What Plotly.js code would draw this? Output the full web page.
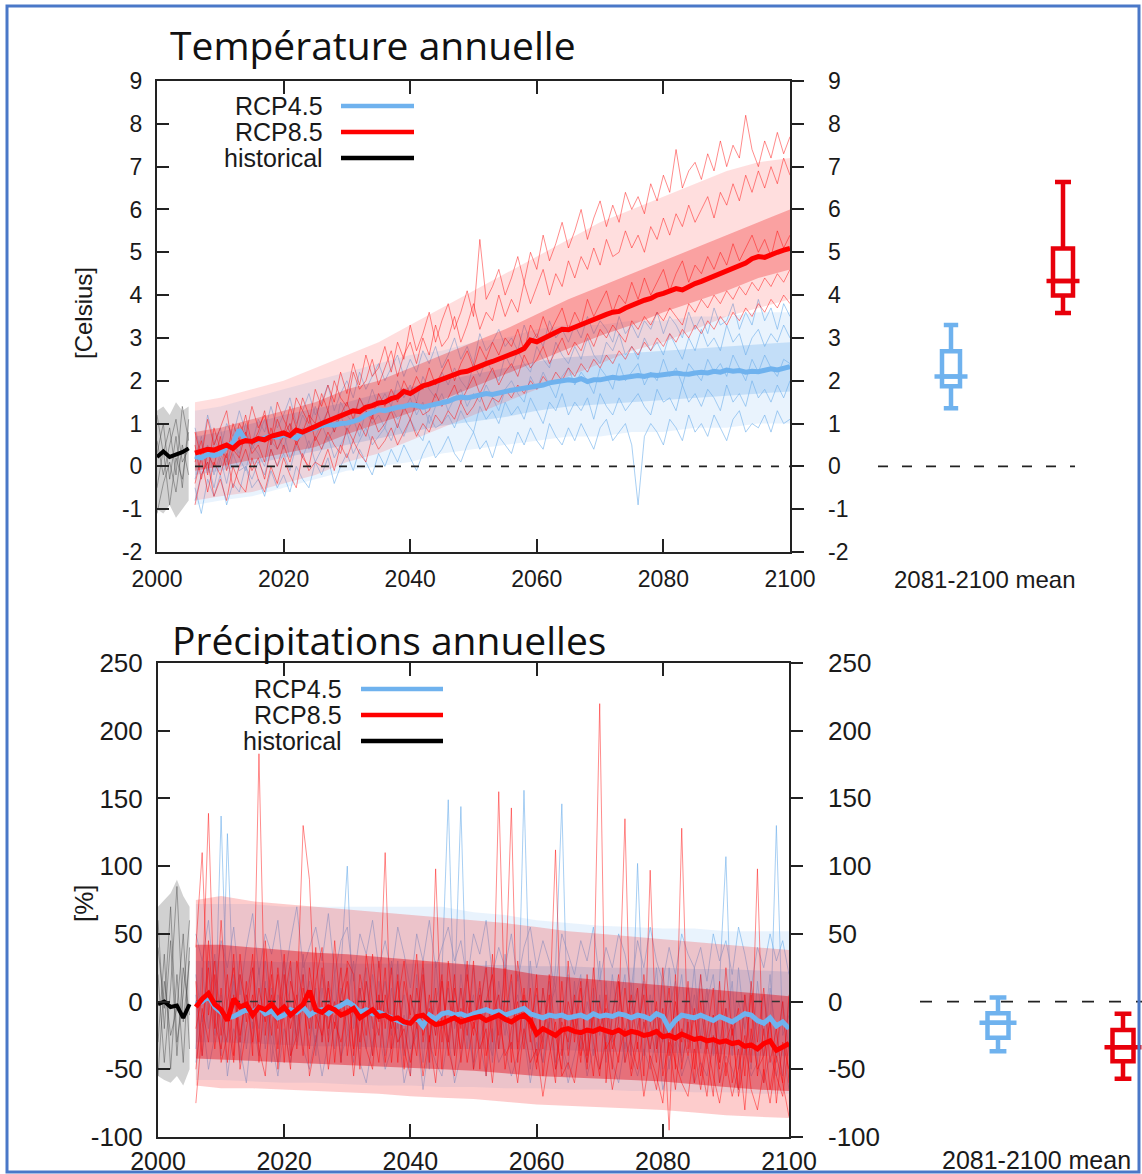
<!DOCTYPE html>
<html>
<head>
<meta charset="utf-8">
<script src="https://cdn.plot.ly/plotly-3.0.1.min.js"></script>
<style>
html,body{margin:0;padding:0;background:#fff;}
#chart{width:1142px;height:1174px;}
</style>
</head>
<body>
<div id="chart"></div>
<script>
// ---------------- DATA ----------------
const scenarios = ['RCP4.5', 'RCP8.5', 'historical'];
const xTickVals = [2000, 2020, 2040, 2060, 2080, 2100];
const tempTickVals = [-2, -1, 0, 1, 2, 3, 4, 5, 6, 7, 8, 9];
const tempTickText = ['-2', '-1', '0', '1', '2', '3', '4', '5', '6', '7', '8', '9'];
const precTickVals = [-100, -50, 0, 50, 100, 150, 200, 250];
const precTickText = ['-100', '-50', '0', '50', '100', '150', '200', '250'];
const boxLabel = '2081-2100 mean';

const histYears = [2000, 2001, 2002, 2003, 2004, 2005];
const projYears = Array.from({length: 95}, (_, i) => 2006 + i);
const bandYears = [2006,2010,2015,2020,2025,2030,2035,2040,2045,2050,2055,2060,2065,2070,2075,2080,2085,2090,2095,2100];

// ---- Temperature (Celsius) ----
const tempHistMean = [0.22, 0.35, 0.22, 0.28, 0.33, 0.42];
const tempHistLow  = [-1.0, -1.1, -0.9, -1.2, -1.0, -0.8];
const tempHistHigh = [1.3, 1.4, 1.2, 1.5, 1.3, 1.4];
const tempHistM1 = [1.2, 0.3, 0.9, -0.2, 1.4, 0.6];
const tempHistM2 = [-0.5, 0.4, -0.9, 0.2, -0.3, 0.8];
const tempHistM3 = [0.6, -0.2, 0.5, 1.1, 0.1, 0.4];
const tempHistM4 = [-1.1, -0.4, 0.1, -0.6, 0.5, -0.2];
const tempHistM5 = [0.3, 1.0, -0.3, 0.7, -0.5, 1.1];

const temp85Mean = [
 0.31,0.35,0.40,0.38,0.45,0.50,0.42,0.55,0.60,0.58,
 0.65,0.62,0.70,0.75,0.78,0.72,0.85,0.80,0.88,0.93,
 1.00,1.05,1.10,1.18,1.24,1.30,1.28,1.38,1.42,1.48,
 1.50,1.58,1.62,1.75,1.70,1.80,1.88,1.92,1.98,2.02,
 2.10,2.15,2.20,2.22,2.29,2.35,2.40,2.45,2.50,2.56,
 2.62,2.68,2.75,2.95,2.91,2.98,3.05,3.10,3.20,3.19,
 3.25,3.32,3.40,3.45,3.50,3.55,3.60,3.62,3.70,3.77,
 3.82,3.88,3.92,4.00,4.04,4.08,4.15,4.12,4.20,4.27,
 4.32,4.38,4.45,4.50,4.58,4.62,4.70,4.75,4.85,4.90,
 4.88,4.95,5.00,5.05,5.09];
const temp45Mean = [
 0.23,0.20,0.28,0.25,0.30,0.45,0.55,0.85,0.60,0.58,
 0.62,0.65,0.70,0.68,0.74,0.72,0.66,0.80,0.85,0.93,
 0.95,0.98,0.96,1.00,1.01,1.05,1.10,1.20,1.25,1.32,
 1.30,1.35,1.38,1.40,1.44,1.42,1.38,1.42,1.45,1.48,
 1.52,1.58,1.62,1.60,1.63,1.66,1.70,1.68,1.72,1.75,
 1.78,1.80,1.82,1.85,1.86,1.90,1.95,1.98,2.00,2.02,
 2.00,2.05,1.98,2.02,2.02,2.05,2.08,2.06,2.08,2.10,
 2.12,2.10,2.14,2.12,2.14,2.15,2.18,2.16,2.15,2.18,
 2.20,2.18,2.22,2.20,2.25,2.22,2.24,2.20,2.22,2.21,
 2.25,2.28,2.25,2.30,2.33];

// ensemble spread: outer (near min/max) and inner (core) envelopes
const temp85OuterLow  = [-0.8,-0.7,-0.6,-0.4,-0.2,0.1,0.3,0.6,0.9,1.2,1.5,1.8,2.1,2.4,2.7,2.9,3.2,3.5,3.7,3.9];
const temp85OuterHigh = [1.5,1.6,1.8,2.0,2.3,2.6,2.9,3.3,3.7,4.1,4.5,4.9,5.3,5.7,6.0,6.3,6.6,6.9,7.1,7.2];
const temp85InnerLow  = [-0.1,0.0,0.15,0.3,0.45,0.75,1.0,1.25,1.55,1.85,2.15,2.45,2.75,3.05,3.3,3.6,3.85,4.1,4.4,4.6];
const temp85InnerHigh = [0.8,0.9,1.1,1.3,1.5,1.8,2.0,2.3,2.6,2.9,3.2,3.55,3.9,4.2,4.5,4.8,5.1,5.4,5.7,6.0];
const temp45OuterLow  = [-0.9,-0.8,-0.7,-0.5,-0.3,-0.1,0.0,0.1,0.3,0.4,0.5,0.6,0.7,0.7,0.8,0.8,0.9,0.9,1.0,1.0];
const temp45OuterHigh = [1.3,1.4,1.6,1.8,2.0,2.2,2.4,2.6,2.7,2.9,3.0,3.2,3.3,3.3,3.4,3.4,3.5,3.5,3.6,3.6];
const temp45InnerLow  = [-0.2,-0.1,0.05,0.2,0.35,0.5,0.65,0.8,0.95,1.05,1.15,1.3,1.4,1.45,1.5,1.55,1.6,1.65,1.7,1.75];
const temp45InnerHigh = [0.7,0.8,1.0,1.2,1.35,1.5,1.7,1.85,2.0,2.15,2.3,2.45,2.55,2.6,2.65,2.7,2.75,2.8,2.85,2.9];

const temp85M1 = [
 0.8,0.2,1.1,0.5,0.9,1.3,0.4,1.0,0.7,1.4, 0.9,1.2,0.6,1.5,1.1,0.8,1.6,1.3,1.0,1.8,
 1.4,1.9,1.5,2.2,1.7,2.4,1.9,2.6,2.1,2.3, 2.8,2.2,2.9,2.5,3.3,2.7,3.1,3.6,2.9,3.4,
 3.8,3.2,3.6,4.1,3.5,5.3,3.9,4.2,4.6,4.0, 4.4,4.9,4.3,5.0,4.6,5.4,4.8,5.2,5.7,5.1,
 5.5,6.0,5.3,5.8,6.2,5.6,6.1,5.7,6.4,6.0, 6.3,5.9,6.6,6.2,6.8,6.4,7.4,6.5,6.9,7.1,
 6.7,7.3,6.9,7.6,7.0,7.5,7.2,8.2,7.4,7.0, 7.6,7.2,7.8,7.3,7.7];
const temp85M2 = [
 0.1,0.6,-0.2,0.9,0.4,0.2,1.0,0.6,1.2,0.5, 0.8,1.3,0.5,1.1,0.7,1.4,0.9,1.6,1.2,1.0,
 1.7,1.3,2.0,1.6,1.4,2.2,1.8,2.0,2.5,1.9, 2.3,2.7,2.1,2.6,2.9,2.4,3.0,2.6,3.3,2.8,
 3.0,3.5,2.9,3.3,3.8,3.2,3.6,3.4,4.0,3.5, 3.9,3.6,4.3,3.8,4.2,4.6,4.0,4.5,4.2,4.8,
 4.4,4.9,4.6,5.1,4.7,5.3,4.9,5.0,5.5,5.1, 5.4,5.0,5.6,5.3,5.8,5.4,5.9,5.6,6.1,5.7,
 6.0,6.3,5.8,6.4,6.1,6.6,6.2,6.8,6.4,6.9, 6.5,7.0,6.6,7.2,6.8];
const temp85M3 = [
 0.5,-0.3,0.3,0.0,0.7,-0.1,0.4,0.2,0.8,0.3, 0.5,0.1,0.9,0.4,0.7,1.0,0.5,0.8,1.2,0.6,
 0.9,1.3,0.8,1.2,1.5,1.1,1.6,1.3,1.1,1.7, 1.4,1.8,1.5,2.0,1.7,2.1,1.8,2.3,1.9,2.2,
 2.5,2.0,2.4,2.7,2.3,2.8,2.5,2.9,2.6,3.0, 2.8,3.2,2.7,3.3,3.0,3.5,3.1,3.4,3.7,3.2,
 3.6,3.3,3.9,3.5,3.8,4.1,3.6,4.0,3.8,4.3, 3.9,4.4,4.0,4.3,4.6,4.1,4.5,4.8,4.3,4.7,
 4.5,4.9,4.6,5.0,4.7,5.2,4.8,5.1,5.4,5.0, 5.3,4.9,5.5,5.1,5.4];
const temp85M4 = [
 -0.4,0.2,-0.6,0.1,-0.2,0.3,-0.5,0.0,0.4,-0.1, 0.2,-0.3,0.4,0.0,0.5,0.1,0.6,0.2,0.0,0.7,
 0.4,0.8,0.5,0.3,0.9,0.6,1.0,0.7,1.2,0.8, 1.0,1.3,0.9,1.4,1.1,1.5,1.2,1.3,1.7,1.4,
 1.6,1.9,1.5,1.8,2.1,1.7,2.0,2.3,1.9,2.2, 2.4,2.1,2.6,2.3,2.5,2.8,2.4,2.7,3.0,2.6,
 2.9,2.7,3.1,2.8,3.2,3.0,3.3,3.1,2.9,3.4, 3.2,3.5,3.3,3.6,3.4,3.7,3.5,3.3,3.8,3.6,
 3.9,3.7,4.0,3.8,4.1,3.9,4.2,4.0,4.3,4.1, 4.4,4.2,4.5,4.3,4.6];
const temp85M5 = [
 -0.9,-0.2,0.1,-0.7,-0.3,-0.8,0.0,-0.4,-0.6,0.2, -0.3,-0.6,0.0,-0.4,0.2,-0.2,-0.5,0.3,-0.1,0.1,
 0.0,0.4,-0.1,0.5,0.2,0.6,0.3,0.1,0.7,0.4, 0.6,0.9,0.5,0.8,1.1,0.7,1.0,0.8,1.2,1.0,
 1.3,1.1,1.5,1.2,1.4,1.7,1.3,1.6,1.5,1.8, 1.6,1.9,1.7,2.0,1.8,2.1,1.9,2.2,2.0,2.3,
 2.1,2.4,2.2,2.5,2.3,2.6,2.4,2.7,2.5,2.8, 2.6,2.9,2.7,3.0,2.8,3.1,2.9,3.2,3.0,3.3,
 3.1,3.4,3.2,3.5,3.3,3.6,3.4,3.7,3.5,3.8, 3.6,3.9,3.7,4.0,3.8];

const temp45M1 = [
 0.9,0.3,1.2,0.6,0.4,1.0,0.7,1.3,0.8,0.5, 1.1,0.8,1.4,0.9,1.2,1.6,1.0,1.3,1.7,1.2,
 1.5,1.9,1.3,1.7,2.0,1.6,2.2,1.8,2.1,2.4, 2.0,2.3,2.6,2.1,2.5,2.2,2.7,2.4,2.8,2.3,
 2.6,3.0,2.5,2.8,2.4,3.1,2.7,2.9,3.2,2.8, 3.0,2.7,3.3,2.9,3.1,2.8,3.4,3.0,3.2,2.9,
 3.3,3.0,3.5,3.1,3.4,3.2,2.9,3.5,3.1,3.3, 3.0,3.4,3.2,3.6,3.1,3.5,3.3,3.0,3.6,3.2,
 3.5,3.1,3.7,3.3,3.4,3.8,3.2,3.6,3.3,3.9, 3.4,3.7,3.2,3.8,3.5];
const temp45M2 = [
 0.2,0.7,-0.1,0.5,0.9,0.1,0.6,0.3,1.0,0.4, 0.7,1.1,0.5,0.8,0.4,1.0,0.7,1.2,0.9,1.4,
 1.0,1.3,0.8,1.5,1.2,1.0,1.6,1.3,1.8,1.4, 1.7,1.4,2.0,1.6,1.9,1.5,2.1,1.8,1.6,2.2,
 1.9,2.3,2.0,1.8,2.4,2.1,2.5,2.2,2.0,2.6, 2.3,2.7,2.4,2.2,2.8,2.5,2.3,2.9,2.6,2.4,
 2.8,2.5,3.0,2.6,2.4,2.9,2.7,3.1,2.6,2.8, 2.5,3.0,2.7,2.9,2.6,3.1,2.8,2.5,3.0,2.7,
 3.2,2.8,3.0,2.7,3.3,2.9,3.1,2.6,3.0,3.2, 2.8,3.1,2.9,3.3,3.0];
const temp45M3 = [
 -0.3,0.2,0.5,-0.2,0.3,0.0,0.6,0.2,-0.1,0.5, 0.3,0.0,0.6,0.4,0.8,0.2,0.5,0.9,0.4,0.7,
 1.0,0.6,0.9,1.2,0.8,1.1,0.7,1.3,1.0,1.2, 0.9,1.4,1.1,1.3,1.6,1.2,1.5,1.0,1.4,1.7,
 1.3,1.6,1.8,1.4,1.7,1.5,1.9,1.6,1.3,1.8, 2.0,1.7,1.5,2.1,1.8,2.2,1.9,1.6,2.1,2.3,
 1.9,2.2,2.0,1.7,2.3,2.1,1.8,2.4,2.0,2.2, 2.4,1.9,2.2,2.0,2.5,2.1,2.3,1.9,2.4,2.2,
 2.0,2.5,2.2,2.4,2.1,2.6,2.3,2.0,2.5,2.2, 2.6,2.3,2.1,2.5,2.4];
const temp45M4 = [
 -0.8,-0.2,0.1,-0.5,0.2,-0.4,0.3,-0.1,0.0,-0.3, 0.1,-0.2,0.4,0.0,0.3,-0.1,0.5,0.2,0.6,0.1,
 0.4,0.7,0.2,0.5,0.8,0.3,0.6,0.9,0.5,0.7, 0.9,0.6,1.0,0.7,1.1,0.8,0.6,1.2,0.9,1.0,
 1.2,0.9,1.3,1.0,0.8,1.4,1.1,1.3,1.0,1.5, 1.2,1.4,1.1,1.6,1.3,1.0,1.5,1.3,1.7,1.2,
 1.5,1.3,1.6,1.1,1.7,1.4,1.2,1.6,1.3,1.5, 1.7,1.4,1.2,1.8,1.5,1.6,1.3,1.9,1.5,1.7,
 1.4,1.8,1.6,1.3,1.9,1.5,1.7,1.4,2.0,1.6, 1.8,1.5,1.9,1.6,2.0];
const temp45M5 = [
 -0.5,-1.1,-0.3,-0.7,-0.2,-0.9,-0.4,-0.6,0.0,-0.5, -0.3,-0.7,-0.1,-0.5,-0.2,-0.6,0.0,-0.3,-0.5,0.1,
 -0.2,0.2,-0.4,0.0,0.3,-0.1,0.4,0.1,-0.2,0.3, 0.0,0.4,0.1,0.5,0.2,-0.1,0.3,0.6,0.2,0.4,
 0.7,0.3,0.1,0.5,0.8,0.4,0.6,0.2,0.7,0.5, 0.3,0.8,0.5,0.9,0.6,0.4,1.0,0.7,0.5,0.9,
 0.6,1.0,0.7,0.4,0.9,1.1,0.6,0.8,1.0,0.5, -0.9,0.7,1.0,0.8,0.5,1.1,0.9,0.6,1.2,0.8,
 1.0,0.7,1.2,0.9,0.6,1.1,1.3,0.8,1.0,0.9, 1.2,0.8,1.3,1.0,1.1];

const tempBoxRCP45 = [1.36, 1.87, 2.10, 2.69, 3.30];  // low whisker, q1, median, q3, high whisker
const tempBoxRCP85 = [3.58, 3.99, 4.33, 5.09, 6.64];

// ---- Precipitation (%) ----
const precHistMean = [-2, 0, -4, -3, -12, -2];
const precHistLow  = [-55, -58, -60, -55, -62, -50];
const precHistHigh = [70, 75, 80, 90, 78, 70];
const precHistM1 = [60, -20, 45, -40, 25, -10];
const precHistM2 = [-30, 35, -50, 20, -45, 40];
const precHistM3 = [20, -45, 10, 85, -15, 30];
const precHistM4 = [-55, 15, -25, -5, 50, -35];
const precHistM5 = [40, -5, 70, -30, 5, 60];

const prec85Mean = [
 -4,2,6,-2,-6,-14,2,-4,-2,-10, -4,-6,-2,-8,-4,-10,-6,-2,8,-6,
 -8,-4,-6,-10,-8,-5,-12,-9,-6,-11, -10,-13,-12,-15,-16,-11,-10,-14,-17,-16,
 -14,-12,-15,-13,-12,-11,-14,-12,-10,-13, -15,-12,-10,-14,-24,-20,-22,-25,-21,-20,
 -22,-23,-21,-22,-20,-22,-23,-21,-24,-22, -23,-25,-24,-22,-26,-25,-27,-24,-26,-28,
 -27,-29,-28,-30,-29,-31,-30,-33,-32,-35, -31,-29,-36,-33,-31];
const prec45Mean = [
 -2,0,4,-4,-8,-12,-11,-9,-6,-8, -4,-9,-7,-12,-10,-6,-8,-4,-10,-7,
 -6,-9,-5,-3,0,-3,-8,-6,-9,-8, -10,-12,-14,-16,-15,-12,-18,-10,-13,-9,
 -8,-10,-9,-11,-9,-7,-6,-8,-7,-10, -8,-6,-5,-9,-11,-12,-10,-11,-10,-12,
 -11,-10,-12,-9,-11,-10,-11,-9,-10,-12, -10,-11,-13,-9,-11,-20,-14,-10,-11,-12,
 -10,-12,-14,-11,-13,-15,-12,-9,-10,-14, -16,-12,-18,-15,-20];

const prec85OuterLow  = [-62,-64,-64,-65,-66,-67,-68,-70,-71,-72,-74,-76,-77,-78,-79,-80,-82,-84,-85,-86];
const prec85OuterHigh = [75,78,74,72,70,68,66,64,62,60,58,55,52,50,48,46,44,42,40,38];
const prec85InnerLow  = [-42,-43,-44,-45,-46,-47,-48,-49,-50,-51,-53,-55,-56,-57,-58,-59,-61,-63,-65,-66];
const prec85InnerHigh = [42,42,40,38,36,35,33,31,29,27,24,20,18,16,14,12,10,8,6,4];
const prec45OuterLow  = [-58,-58,-59,-60,-60,-61,-62,-62,-63,-63,-64,-64,-65,-65,-66,-66,-67,-67,-68,-68];
const prec45OuterHigh = [72,72,72,70,70,70,70,70,70,66,64,60,58,56,55,54,54,52,52,52];
const prec45InnerLow  = [-30,-30,-31,-32,-33,-33,-34,-35,-35,-35,-35,-36,-36,-37,-37,-38,-38,-39,-40,-40];
const prec45InnerHigh = [30,30,30,29,29,28,28,28,28,27,27,26,26,25,25,25,24,24,23,22];

const prec85M1 = [
 -75,-20,25,-35,10,-45,5,-30,15,-40, 183,-25,20,-50,0,30,-35,10,-20,40,
 -30,15,-45,5,25,-40,10,-25,35,-15, 110,-35,20,-50,5,-20,30,-45,98,-30,
 15,-40,10,-25,30,-50,0,20,-35,5, 143,-45,10,-30,20,-55,-15,112,-40,0,
 -20,15,-50,-5,220,-60,-10,20,-45,-25, 10,-55,97,-35,-5,-95,20,-50,-15,-60,
 0,-40,-70,15,-55,-20,-65,5,-45,98, -60,-10,-75,-30,-50];
const prec85M2 = [
 40,110,-10,30,-25,20,-40,35,-15,25, -30,45,-10,20,-45,15,-5,130,90,-20,
 25,-30,45,-10,15,-35,20,-5,-40,30, -20,25,-45,15,-10,35,-30,5,-25,20,
 -40,10,-20,30,-50,-5,25,-30,155,-15, 20,-35,5,-25,-50,10,-30,-60,15,-40,
 -10,-45,20,-30,-55,5,-35,-15,135,-50, -20,5,-45,-65,-25,10,-50,128,-35,-5,
 -55,-25,10,-60,-30,-15,-70,-40,5,-55, -20,-65,-35,0,-60];
const prec85M3 = [
 -20,5,139,-15,-35,0,25,-25,5,-30, 10,-15,30,-35,20,-20,5,-40,25,-10,
 -25,10,-20,25,-40,0,-30,15,-15,-45, 5,-20,15,-35,-55,10,-25,-5,-40,15,
 -30,20,-45,0,-25,15,-40,-10,5,-50, -20,0,-35,10,-45,-25,5,-50,-15,-30,
 5,-40,-20,-55,0,-35,-25,-45,10,-30, -50,-15,-35,0,-55,-30,-65,-20,-40,-10,
 -45,-70,-25,-50,-5,-60,-35,-80,-20,-50, -40,-15,-55,-70,-30];
const prec85M4 = [
 15,-40,45,-20,60,-10,-45,20,-5,35, -45,10,-25,25,-15,-50,30,0,-35,15,
 40,-20,0,-45,30,20,-50,35,0,-25, 25,-45,0,30,-15,-40,20,-30,10,-50,
 30,-10,-35,20,-20,5,-55,35,-25,25, -45,30,-5,-20,10,-35,20,-25,-50,30,
 -30,10,-40,25,-20,-5,-50,15,-25,5, -35,20,-15,-45,25,-40,0,-30,15,-50,
 20,-35,-10,-45,25,-25,-5,-55,15,-30, 10,-45,-20,-60,5];
const prec85M5 = [
 -50,-5,-30,20,-45,-25,35,-50,-20,5, -35,-55,5,-20,35,-40,-25,20,-55,-30,
 0,-50,-15,-30,-5,-55,-10,-35,-50,5, -45,-10,-30,-20,-45,-15,-55,-25,-60,-10,
 -35,-55,-5,-45,-15,-35,-20,-60,-10,-40, -30,-60,-20,-45,-35,-70,-40,-15,-55,-45,
 -60,-25,-45,-10,-50,-30,-65,-40,-20,-55, -30,-70,-40,-55,-75,-25,-45,-60,-70,-35,
 -65,-30,-55,-75,-45,-70,-50,-25,-65,-80, -50,-75,-40,-60,-85];

const prec45M1 = [
 20,-15,30,-25,137,-10,15,-30,5,-20, 25,-35,10,-15,30,-40,0,20,-25,10,
 -30,15,-5,25,100,-20,10,-35,20,-10, 15,-25,30,-40,5,-15,25,-30,0,20,
 149,-20,10,-35,25,-10,30,-45,5,-25, 15,-30,156,-15,-40,10,-20,25,146,-35,
 0,20,-45,10,-25,15,-30,-5,20,-40, 102,-20,5,-35,15,-50,-10,20,-30,5,
 -25,10,-40,15,107,-35,0,-20,10,-45, 5,-30,130,-25,-10];
const prec45M2 = [
 -35,25,-20,10,-40,124,-5,20,-35,0, -20,15,-45,5,-10,25,-30,-5,15,-40,
 10,-25,20,-45,0,30,-35,15,-20,5, -40,10,-30,-10,-55,20,-45,0,-25,15,
 -30,5,144,-20,-45,10,-25,-40,15,-15, -35,20,-10,-50,5,-30,15,-45,-10,20,
 -25,-5,15,-40,5,-30,20,-15,-45,10, -20,15,-35,-5,-50,25,-25,-40,10,-15,
 20,-30,-10,-45,-20,15,-50,5,-30,-15, -40,10,-25,-55,0];
const prec45M3 = [
 5,-40,0,35,-15,-30,20,-45,10,25, -5,30,-20,-45,15,0,-25,35,-10,-30,
 20,0,-35,10,-20,-45,5,25,-40,15, -10,30,-20,5,-35,-25,15,-50,30,-20,
 10,-40,20,-15,5,-30,-5,20,-35,35, -10,5,-25,30,-20,-45,-5,10,-30,-50,
 15,-35,0,-20,30,-45,-10,15,-35,-5, 10,-40,-15,25,-30,-5,15,-45,-20,25,
 -35,0,20,-30,-5,-40,25,-20,-50,15, -25,20,-45,0,-35];
const prec45M4 = [
 -45,-10,-50,-25,5,-55,-20,-35,-60,-15, -40,-5,-30,-55,-20,-45,-10,-35,-50,-25,
 -55,-30,-10,-40,-25,-5,-45,-60,-30,-20, -50,-35,-15,-60,-40,-20,-65,-30,-45,-55,
 -25,-60,-40,-10,-50,-30,-55,-20,-45,-35, -55,-40,-25,-60,-30,-45,-15,-50,-35,-60,
 -40,-20,-55,-35,-50,-25,-45,-60,-30,-40, -55,-35,-50,-25,-65,-45,-30,-55,-40,-60,
 -45,-55,-30,-60,-40,-50,-65,-35,-55,-45, -60,-40,-55,-35,-65];
const prec45M5 = [
 50,30,60,10,45,25,55,5,40,65, 20,50,35,60,15,45,70,25,40,55,
 30,65,20,45,55,15,50,35,60,25, 45,20,55,35,10,50,30,60,25,40,
 55,30,45,15,50,35,60,20,40,25, 50,15,40,55,25,45,30,10,50,35,
 20,45,30,55,15,40,25,50,35,10, 45,25,55,30,15,40,20,50,35,25,
 40,15,50,30,45,20,55,35,10,40, 25,50,30,45,20];

const precBoxRCP45 = [-36.7, -26.8, -15.6, -8.7, 3.0];
const precBoxRCP85 = [-57, -44, -33.7, -21, -9];

// ---------------- STYLES / LAYOUT HELPERS ----------------
const W = 1142, H = 1174;
const px = v => v / W;
const py = v => 1 - v / H;
const C45 = '#6fb2ee', C85 = '#ff0000', CH = '#000000', C85box = '#e8000b';
const C45m = 'rgba(110,175,235,0.6)', C85m = 'rgba(255,0,0,0.45)', CHm = 'rgba(70,70,70,0.45)';
const TICKFONT = 'Liberation Sans, Arial, Helvetica, sans-serif';
const TITLEFONT = 'Open Sans, Noto Sans, sans-serif';

function band(xs, lo, hi, color, xa, ya) {
  return {type:'scatter', mode:'lines', x: xs.concat(xs.slice().reverse()),
    y: hi.concat(lo.slice().reverse()), fill:'toself', fillcolor: color,
    line:{width:0}, xaxis:xa, yaxis:ya, hoverinfo:'skip'};
}
function line(xs, ys, color, width, xa, ya, dash) {
  return {type:'scatter', mode:'lines', x: xs, y: ys, line:{color, width, dash: dash || 'solid'},
    xaxis:xa, yaxis:ya, hoverinfo:'skip'};
}
function boxTrace(pos, s, color, xa, ya, w) {
  return {type:'box', x:[pos], lowerfence:[s[0]], q1:[s[1]], median:[s[2]], q3:[s[3]], upperfence:[s[4]],
    width: w, whiskerwidth: 0.8, fillcolor:'rgba(255,255,255,0)', line:{color, width:4.5},
    boxpoints:false, xaxis:xa, yaxis:ya, hoverinfo:'skip'};
}
function medianBar(pos, s, color, xa, ya, hw) {
  return {type:'scatter', mode:'markers', x:[pos], y:[s[2]], marker:{size:1, color:'rgba(0,0,0,0)'},
    error_x:{type:'constant', value: hw, thickness:4.5, width:0, color}, xaxis:xa, yaxis:ya, hoverinfo:'skip'};
}
function boxRange(d0, d1, p1, p2) {
  const u = p2 - p1;
  return [1 - (p1 - d0) / u, 2 + (d1 - p2) / u];
}

const zeroX = [2006, 2100];
const zeroY = [0, 0];

const traces = [];
// ----- top main -----
traces.push(band(histYears, tempHistLow, tempHistHigh, 'rgba(90,90,90,0.28)', 'x', 'y'));
[tempHistM1, tempHistM2, tempHistM3, tempHistM4, tempHistM5].forEach(m => traces.push(line(histYears, m, CHm, 1, 'x', 'y')));
traces.push(band(bandYears, temp45OuterLow, temp45OuterHigh, 'rgba(120,180,240,0.16)', 'x', 'y'));
traces.push(band(bandYears, temp45InnerLow, temp45InnerHigh, 'rgba(110,175,238,0.30)', 'x', 'y'));
[temp45M1, temp45M2, temp45M3, temp45M4, temp45M5].forEach(m => traces.push(line(projYears, m, C45m, 1, 'x', 'y')));
traces.push(band(bandYears, temp85OuterLow, temp85OuterHigh, 'rgba(255,50,50,0.16)', 'x', 'y'));
traces.push(band(bandYears, temp85InnerLow, temp85InnerHigh, 'rgba(240,20,20,0.30)', 'x', 'y'));
[temp85M1, temp85M2, temp85M3, temp85M4, temp85M5].forEach(m => traces.push(line(projYears, m, C85m, 1, 'x', 'y')));
traces.push(line(zeroX, zeroY, '#222', 1.8, 'x', 'y', '8px,10px'));
traces.push(line(projYears, temp45Mean, C45, 5, 'x', 'y'));
traces.push(line(projYears, temp85Mean, C85, 5, 'x', 'y'));
// drawn on the right-hand (overlaying) axis so that its outward ticks are rendered
traces.push(line(histYears, tempHistMean, CH, 4, 'x', 'y3'));

// ----- top box -----
const topBoxUnit = 1063 - 951;
traces.push(boxTrace(1, tempBoxRCP45, C45, 'x2', 'y2', 18 / topBoxUnit));
traces.push(boxTrace(2, tempBoxRCP85, C85box, 'x2', 'y2', 20 / topBoxUnit));
traces.push(medianBar(1, tempBoxRCP45, C45, 'x2', 'y2', 16.5 / topBoxUnit));
traces.push(medianBar(2, tempBoxRCP85, C85box, 'x2', 'y2', 16.5 / topBoxUnit));

// ----- bottom main -----
traces.push(band(histYears, precHistLow, precHistHigh, 'rgba(90,90,90,0.28)', 'x4', 'y4'));
[precHistM1, precHistM2, precHistM3, precHistM4, precHistM5].forEach(m => traces.push(line(histYears, m, CHm, 1, 'x4', 'y4')));
traces.push(band(bandYears, prec45OuterLow, prec45OuterHigh, 'rgba(120,180,240,0.16)', 'x4', 'y4'));
traces.push(band(bandYears, prec45InnerLow, prec45InnerHigh, 'rgba(110,175,238,0.28)', 'x4', 'y4'));
[prec45M1, prec45M2, prec45M3, prec45M4, prec45M5].forEach(m => traces.push(line(projYears, m, C45m, 1, 'x4', 'y4')));
traces.push(band(bandYears, prec85OuterLow, prec85OuterHigh, 'rgba(245,40,40,0.24)', 'x4', 'y4'));
traces.push(band(bandYears, prec85InnerLow, prec85InnerHigh, 'rgba(225,10,25,0.45)', 'x4', 'y4'));
[prec85M1, prec85M2, prec85M3, prec85M4, prec85M5].forEach(m => traces.push(line(projYears, m, C85m, 1, 'x4', 'y4')));
traces.push(line(zeroX, zeroY, '#333', 1.5, 'x4', 'y4', '8px,10px'));
traces.push(line(projYears, prec45Mean, C45, 5, 'x4', 'y4'));
traces.push(line(projYears, prec85Mean, C85, 5, 'x4', 'y4'));
traces.push(line(histYears, precHistMean, CH, 4, 'x4', 'y6'));

// ----- bottom box -----
const botBoxUnit = 1123 - 998;
traces.push(boxTrace(1, precBoxRCP45, C45, 'x5', 'y5', 21 / botBoxUnit));
traces.push(boxTrace(2, precBoxRCP85, C85box, 'x5', 'y5', 21 / botBoxUnit));
traces.push(medianBar(1, precBoxRCP45, C45, 'x5', 'y5', 18.5 / botBoxUnit));
traces.push(medianBar(2, precBoxRCP85, C85box, 'x5', 'y5', 18.5 / botBoxUnit));

// ---------------- LAYOUT ----------------
function mainX(domain, anchor, fs, standoff) {
  return {domain, anchor, range:[2000, 2100], tickvals: xTickVals, ticks:'inside', ticklen:13, tickwidth:2,
    tickcolor:'#222', showline:true, linewidth:2, linecolor:'#222', mirror:'ticks', showgrid:false, zeroline:false,
    tickfont:{family:TICKFONT, size:fs, color:'#1a1a1a'}, ticklabelstandoff: standoff};
}
function mainY(domain, anchor, range, vals, text, fs) {
  return {domain, anchor, range, tickvals: vals, ticktext: text, ticks:'inside', ticklen:12, tickwidth:2, tickcolor:'#222',
    showline:true, linewidth:2, linecolor:'#222', mirror:true, showgrid:false, zeroline:false,
    tickfont:{family:TICKFONT, size:fs, color:'#1a1a1a'}, ticklabelstandoff: 8};
}
// right-hand outward ticks (labels are drawn as annotations further right)
function rightTicks(over, anchor, range, vals) {
  return {overlaying: over, side:'right', anchor, range, tickvals: vals, ticks:'outside', ticklen:13, tickwidth:2,
    tickcolor:'#222', showline:false, showgrid:false, zeroline:false, showticklabels:false};
}
function hidden(domain, anchor, range) {
  return {domain, anchor, range, visible:false, showgrid:false, zeroline:false, fixedrange:true};
}

const topYdom = [py(552), py(81)];
const botYdom = [py(1137), py(663)];

function legendText(label, xr, yc, fs) {
  return {text: label, xref:'paper', yref:'paper', x:px(xr), y:py(yc), xanchor:'right', yanchor:'middle',
    showarrow:false, font:{family:TICKFONT, size:fs, color:'#1a1a1a'}};
}
function legendLine(x0, x1, yc, color) {
  return {type:'line', xref:'paper', yref:'paper', x0:px(x0), x1:px(x1), y0:py(yc), y1:py(yc), line:{color, width:4.5}};
}
function rightLabels(vals, texts, yref, xLeft, fs) {
  return vals.map((v, i) => ({text: texts[i], xref:'paper', yref: yref, x: px(xLeft), y: v, xanchor:'left', yanchor:'middle',
    showarrow:false, font:{family:TICKFONT, size:fs, color:'#1a1a1a'}}));
}

const annotations = [
  {text:'Température annuelle', xref:'paper', yref:'paper', x:px(168), y:py(45), xanchor:'left', yanchor:'middle', showarrow:false, font:{family:TITLEFONT, size:39, color:'#111'}},
  {text:'Précipitations annuelles', xref:'paper', yref:'paper', x:px(170), y:py(639), xanchor:'left', yanchor:'middle', showarrow:false, font:{family:TITLEFONT, size:39, color:'#111'}},
  {text:'[Celsius]', xref:'paper', yref:'paper', x:px(84), y:py(313), textangle:-90, xanchor:'center', yanchor:'middle', showarrow:false, font:{family:TICKFONT, size:24, color:'#1a1a1a'}},
  {text:'[%]', xref:'paper', yref:'paper', x:px(84), y:py(903), textangle:-90, xanchor:'center', yanchor:'middle', showarrow:false, font:{family:TICKFONT, size:26, color:'#1a1a1a'}},
  {text: boxLabel, xref:'paper', yref:'paper', x:px(984), y:py(579), xanchor:'center', yanchor:'middle', showarrow:false, font:{family:TICKFONT, size:24, color:'#1a1a1a'}},
  {text: boxLabel, xref:'paper', yref:'paper', x:px(1036), y:py(1160), xanchor:'center', yanchor:'middle', showarrow:false, font:{family:TICKFONT, size:25, color:'#1a1a1a'}},
  legendText(scenarios[0], 325, 106, 25), legendText(scenarios[1], 325, 132, 25), legendText(scenarios[2], 325, 158, 25),
  legendText(scenarios[0], 344, 689, 25), legendText(scenarios[1], 344, 715, 25), legendText(scenarios[2], 344, 741, 25)
].concat(rightLabels(tempTickVals, tempTickText, 'y', 826, 23))
 .concat(rightLabels(precTickVals, precTickText, 'y4', 826, 26));

const layout = {
  width: W, height: H, margin:{l:0, r:0, t:0, b:0}, paper_bgcolor:'#ffffff', plot_bgcolor:'rgba(0,0,0,0)',
  showlegend:false,
  xaxis: mainX([px(157), px(790)], 'y', 23, 5),
  yaxis: mainY(topYdom, 'x', [-2, 9], tempTickVals, tempTickText, 23),
  yaxis3: rightTicks('y', 'x', [-2, 9], tempTickVals),
  xaxis2: hidden([px(870), px(1085)], 'y2', boxRange(870, 1085, 951, 1063)),
  yaxis2: hidden(topYdom, 'x2', [-2, 9]),
  xaxis4: mainX([px(158), px(789)], 'y4', 25, 1),
  yaxis4: mainY(botYdom, 'x4', [-100, 250], precTickVals, precTickText, 26),
  yaxis6: rightTicks('y4', 'x4', [-100, 250], precTickVals),
  xaxis5: hidden([px(905), px(1142)], 'y5', boxRange(905, 1142, 998, 1123)),
  yaxis5: hidden(botYdom, 'x5', [-100, 250]),
  shapes: [
    {type:'line', xref:'paper', yref:'y2', x0:px(878), x1:px(1075), y0:0, y1:0, line:{color:'#222', width:1.8, dash:'10px,14px'}},
    {type:'line', xref:'paper', yref:'y5', x0:px(920), x1:px(1142), y0:0, y1:0, line:{color:'#222', width:1.8, dash:'12px,15px'}},
    legendLine(341, 414, 106, C45), legendLine(341, 414, 132, C85), legendLine(341, 414, 158, CH),
    legendLine(361, 443, 689, C45), legendLine(361, 443, 715, C85), legendLine(361, 443, 741, CH),
    {type:'rect', xref:'paper', yref:'paper', x0:px(7), x1:px(1139), y0:py(1172), y1:py(6), line:{color:'#4a78c8', width:3}}
  ],
  annotations: annotations
};

Plotly.newPlot('chart', traces, layout, {staticPlot:true, displayModeBar:false});
</script>
</body>
</html>
